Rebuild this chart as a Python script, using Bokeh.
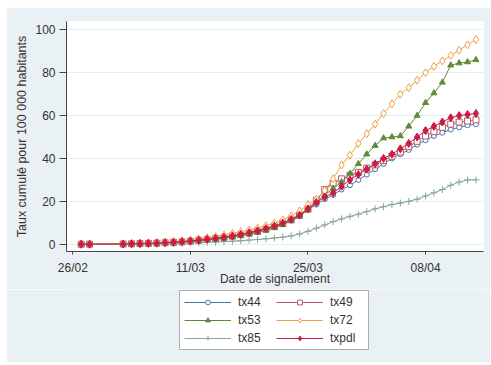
from datetime import datetime, timedelta
from bokeh.plotting import figure
from bokeh.layouts import column
from bokeh.models import Range1d, FixedTicker, DatetimeTickFormatter, Legend, LegendItem
from bokeh.embed import file_html
from bokeh.resources import INLINE

# ---- data ----
dates = ["2020-02-27", "2020-02-28",
         "2020-03-03", "2020-03-04", "2020-03-05", "2020-03-06", "2020-03-07",
         "2020-03-08", "2020-03-09", "2020-03-10", "2020-03-11", "2020-03-12",
         "2020-03-13", "2020-03-14", "2020-03-15", "2020-03-16", "2020-03-17",
         "2020-03-18", "2020-03-19", "2020-03-20", "2020-03-21", "2020-03-22",
         "2020-03-23", "2020-03-24", "2020-03-25", "2020-03-26", "2020-03-27",
         "2020-03-28", "2020-03-29", "2020-03-30", "2020-03-31", "2020-04-01",
         "2020-04-02", "2020-04-03", "2020-04-04", "2020-04-05", "2020-04-06",
         "2020-04-07", "2020-04-08", "2020-04-09", "2020-04-10", "2020-04-11",
         "2020-04-12", "2020-04-13", "2020-04-14"]

tx44 = [0, 0,
        0.1, 0.2, 0.3, 0.4, 0.5, 0.6, 0.8, 1.0, 1.3, 1.7, 2.1, 2.6, 3.1, 3.7, 4.4,
        5.1, 6.0, 7.0, 8.2, 9.6, 11.2, 13.2, 16.0, 18.5, 21.0, 23.0, 25.5, 27.5, 30.0,
        32.5, 35.0, 37.5, 40.0, 42.0, 44.0, 46.5, 48.5, 50.5, 52.0, 53.5, 54.5, 55.5, 56.0]
tx49 = [0, 0,
        0.1, 0.2, 0.3, 0.4, 0.5, 0.7, 0.9, 1.1, 1.4, 1.8, 2.2, 2.7, 3.2, 3.8, 4.5,
        5.3, 6.2, 7.2, 8.4, 9.8, 11.5, 13.6, 16.5, 20.5, 25.5, 28.5, 30.5, 32.0, 33.5,
        35.5, 37.0, 39.0, 41.0, 43.0, 45.5, 48.0, 50.5, 52.5, 54.5, 56.0, 57.0, 57.5, 58.0]
tx53 = [0, 0,
        0.1, 0.2, 0.3, 0.3, 0.4, 0.6, 0.8, 1.0, 1.2, 1.5, 1.9, 2.3, 2.8, 3.3, 3.9,
        4.6, 5.4, 6.4, 7.6, 9.0, 10.8, 13.0, 16.0, 19.5, 23.0, 26.0, 29.0, 33.0, 37.5,
        42.0, 46.0, 49.5, 50.0, 50.5, 55.0, 60.0, 66.0, 70.5, 75.5, 83.5, 84.5, 85.0, 86.0]
tx72 = [0, 0,
        0.2, 0.3, 0.5, 0.6, 0.8, 1.0, 1.2, 1.5, 1.9, 2.4, 3.0, 3.6, 4.3, 5.0, 5.8,
        6.6, 7.5, 8.6, 9.8, 11.3, 13.2, 15.5, 18.5, 21.0, 25.0, 30.5, 37.0, 41.5, 47.0,
        51.5, 56.0, 61.0, 65.5, 70.0, 73.0, 76.5, 80.0, 83.0, 85.5, 88.0, 90.5, 93.0, 95.5]
tx85 = [0, 0,
        0.0, 0.1, 0.1, 0.2, 0.2, 0.3, 0.4, 0.5, 0.6, 0.7, 0.9, 1.0, 1.2, 1.4, 1.6,
        1.9, 2.2, 2.5, 2.9, 3.3, 3.9, 4.8, 6.0, 7.5, 9.0, 10.5, 11.8, 13.0, 14.0,
        15.2, 16.5, 17.5, 18.5, 19.2, 20.0, 21.0, 22.5, 24.0, 25.5, 27.5, 29.0, 30.0, 30.0]
txpdl = [0, 0,
         0.1, 0.2, 0.3, 0.4, 0.5, 0.7, 0.9, 1.2, 1.5, 1.9, 2.3, 2.8, 3.3, 3.9, 4.6,
         5.4, 6.3, 7.3, 8.5, 9.9, 11.6, 13.6, 16.5, 19.5, 22.0, 24.0, 27.0, 30.0, 32.5,
         35.0, 37.5, 40.0, 42.0, 44.5, 47.0, 50.0, 53.0, 55.0, 57.0, 59.0, 60.0, 60.5, 61.0]

tick_dates = ["2020-02-26", "2020-03-11", "2020-03-25", "2020-04-08"]
y_ticks = [0, 20, 40, 60, 80, 100]

series = [
    ("tx44", tx44, "#4a72a6", "circle", 5, True),
    ("tx49", tx49, "#b25a68", "square", 6, True),
    ("tx53", tx53, "#5f8a3a", "triangle", 6, False),
    ("tx72", tx72, "#f0a040", "diamond", 8, True),
    ("tx85", tx85, "#86a698", "cross", 7, False),
    ("txpdl", txpdl, "#cc1a45", "diamond", 8, False),
]

# ---- figure ----
BG = "#eaf1f4"
FONT = "Liberation Sans"
TXT = "#333333"

x = [datetime.strptime(d, "%Y-%m-%d") for d in dates]
origin = datetime(2020, 2, 26)

p = figure(width=484, height=282, x_axis_type="datetime",
           x_range=Range1d(origin - timedelta(days=0.75), origin + timedelta(days=48.9)),
           y_range=Range1d(-3.4, 103.9),
           output_backend="svg", toolbar_location=None,
           min_border_left=60, min_border_right=7, min_border_top=14, min_border_bottom=38,
           background_fill_color="white", border_fill_color=BG, outline_line_color=None)

# legend-only strip below the chart (its series sit outside its visible range)
p2 = figure(width=484, height=73, x_range=Range1d(0, 1), y_range=Range1d(-1000, -999),
            output_backend="svg", toolbar_location=None,
            x_axis_location=None, y_axis_location=None,
            min_border_left=0, min_border_right=0, min_border_top=0, min_border_bottom=0,
            background_fill_color=BG, border_fill_color=BG, outline_line_color=None)
p2.grid.visible = False

items = {}
for name, vals, col, mk, sz, hollow in series:
    p.line(x, vals, line_color=col, line_width=1)
    fc = "white" if hollow else col
    l1 = p2.line(x, vals, line_color=col, line_width=1)
    if mk == "cross":
        p.scatter(x, vals, marker="cross", size=sz, line_color=col, line_width=1)
        l2 = p2.scatter(x, vals, marker="cross", size=sz, line_color=col, line_width=1)
    else:
        p.scatter(x, vals, marker=mk, size=sz, line_color=col, line_width=1, fill_color=fc)
        l2 = p2.scatter(x, vals, marker=mk, size=sz, line_color=col, line_width=1, fill_color=fc)
    items[name] = LegendItem(label=name, renderers=[l1, l2])

# axes
ticks_ms = [datetime.strptime(d, "%Y-%m-%d").timestamp() * 1000 for d in tick_dates]
p.xaxis.ticker = FixedTicker(ticks=ticks_ms)
fmt = "%d/%m"
p.xaxis.formatter = DatetimeTickFormatter(microseconds=fmt, milliseconds=fmt, seconds=fmt,
                                          minsec=fmt, minutes=fmt, hourmin=fmt, hours=fmt,
                                          days=fmt, months=fmt, years=fmt)
p.yaxis.ticker = FixedTicker(ticks=y_ticks)

for ax in (p.xaxis, p.yaxis):
    ax.axis_line_color = "#444444"
    ax.major_tick_line_color = "#444444"
    ax.minor_tick_line_color = None
    ax.major_tick_in = 0
    ax.major_label_text_font = FONT
    ax.major_label_text_font_size = "12px"
    ax.major_label_text_color = TXT
    ax.axis_label_text_font = FONT
    ax.axis_label_text_font_size = "12px"
    ax.axis_label_text_color = TXT
    ax.axis_label_text_font_style = "normal"

p.yaxis.axis_label_text_font_size = "12.5px"
p.xaxis.axis_label = "Date de signalement"
p.yaxis.axis_label = "Taux cumulé pour 100 000 habitants"
p.xaxis.major_tick_out = 3
p.xaxis.major_label_standoff = 6
p.xaxis.axis_label_standoff = -6
p.yaxis.major_tick_out = 7
p.yaxis.major_label_standoff = 4
p.yaxis.axis_label_standoff = 3

p.xgrid.grid_line_color = None
p.ygrid.grid_line_color = "#e4edf1"
p.ygrid.grid_line_width = 1

# column-major fill: first column tx44/tx53/tx85, second tx49/tx72/txpdl
order = ["tx44", "tx53", "tx85", "tx49", "tx72", "txpdl"]
legend = Legend(items=[items[n] for n in order], ncols=2, location=(113, 12),
                glyph_width=47, glyph_height=12, label_height=12, label_width=34,
                label_standoff=7, spacing=4, padding=4, margin=0,
                label_text_font=FONT, label_text_font_size="12px", label_text_color=TXT,
                border_line_color="#5a5a5a", border_line_width=1.5,
                background_fill_color="white", background_fill_alpha=1.0)
p2.add_layout(legend, "center")

layout = column(p, p2, spacing=0, margin=(7, 0, 0, 6))
open("out.html", "w").write(file_html(layout, INLINE))
